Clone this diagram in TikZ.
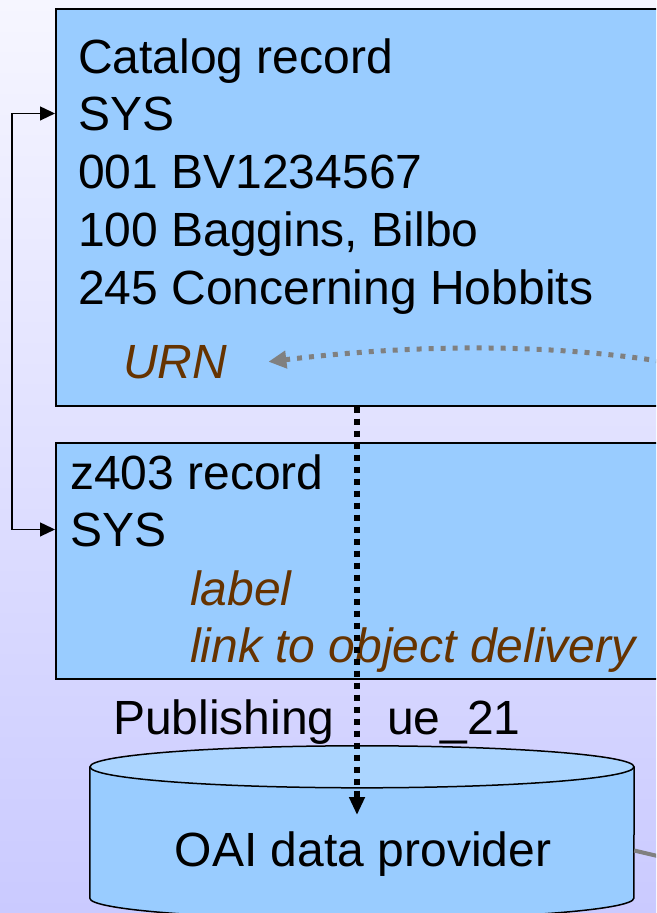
\documentclass[tikz,border=0pt]{standalone}
\usepackage{fontspec}
\setmainfont{Liberation Sans}
\usetikzlibrary{arrows.meta,positioning,calc}

\definecolor{boxblue}{HTML}{99CCFF}
\definecolor{topblue}{HTML}{ABD5FF}
\definecolor{fieldbrown}{HTML}{663300}
\definecolor{bgtop}{HTML}{F6F6FF}
\definecolor{bgbottom}{HTML}{CACAFF}

\begin{document}
\begin{tikzpicture}[
    x=1pt, y=-1pt,
    record/.style={rectangle, draw, line width=1.5pt, fill=boxblue, anchor=north west, inner sep=0},
    line/.style={font=\fontsize{48}{57}\selectfont, anchor=base west, inner sep=0},
    field/.style={line, font=\fontsize{48}{57}\selectfont\itshape, text=fieldbrown},
    link_arrow/.style={{Triangle[length=15pt,width=14pt]}-{Triangle[length=15pt,width=14pt]}, line width=1.3pt},
    pub_arrow/.style={-{Triangle[length=18pt,width=15pt]}, line width=5.5pt, dash pattern=on 6pt off 6pt},
    urn_arrow/.style={-{Triangle[length=18pt,width=17pt]}, line width=5pt, gray, dash pattern=on 5pt off 7pt},
    feed/.style={line width=4pt, gray}
]

% Hintergrund
\clip (0,0) rectangle (656,913);
\shade[top color=bgtop, bottom color=bgbottom] (0,0) rectangle (656,913);

% Katalogsatz
\node[record, minimum width=645pt, minimum height=397pt] (catbox) at (55,8) {};
\node[line] (cat1) at (78,73) {Catalog record};
\node[line] (catsys) at (78,130) {SYS};
\node[line] (cat001) at (78,188) {001 BV1234567};
\node[line] (cat100) at (78,246) {100 Baggins, Bilbo};
\node[line] (cat245) at (78,304) {245 Concerning Hobbits};
\node[field] (urn) at (123,378) {URN};

% z403-Satz
\node[record, minimum width=645pt, minimum height=236pt] (zbox) at (55,442) {};
\node[line] (z1) at (70,489) {z403 record};
\node[line] (zsys) at (70,546) {SYS};
\node[field] (zlabel) at (190,605) {label};
\node[field] (zlink) at (190,662) {link to object delivery};

% Publishing
\node[line] (publ) at (113,734) {Publishing};
\node[line] (ue) at (387,734) {ue\_21};

% OAI data provider
\node[rectangle, fill=boxblue, minimum width=544pt, minimum height=131pt, inner sep=0] (oai) at (362,832.5) {};
\fill[boxblue] (oai.south) ellipse [x radius=272, y radius=21];
\draw[line width=1.5pt] (oai.north west) -- (oai.south west) arc [start angle=180, end angle=0, x radius=272, y radius=21] -- (oai.north east);
\filldraw[fill=topblue, line width=1.5pt] (oai.north) ellipse [x radius=272, y radius=21];
\node[line, anchor=base] (oaitext) at (363,866) {OAI data provider};

% Verbindungen
\coordinate (urnsrc) at (720,372);
\coordinate (feedout) at (700,866);
\draw[link_arrow] (catbox.west |- catsys.west) -- ++(-43,0) |- (zbox.west |- zsys.west);
\draw[pub_arrow] ([xshift=-6pt]catbox.south -| oaitext.north) -- ([xshift=-6pt,yshift=16pt]oaitext.north);
\draw[urn_arrow] (urnsrc) .. controls (560,338) and (400,346) .. ([xshift=41pt]urn.east);
\draw[feed] ([yshift=-18pt]oai.east) -- (feedout);

\end{tikzpicture}
\end{document}
